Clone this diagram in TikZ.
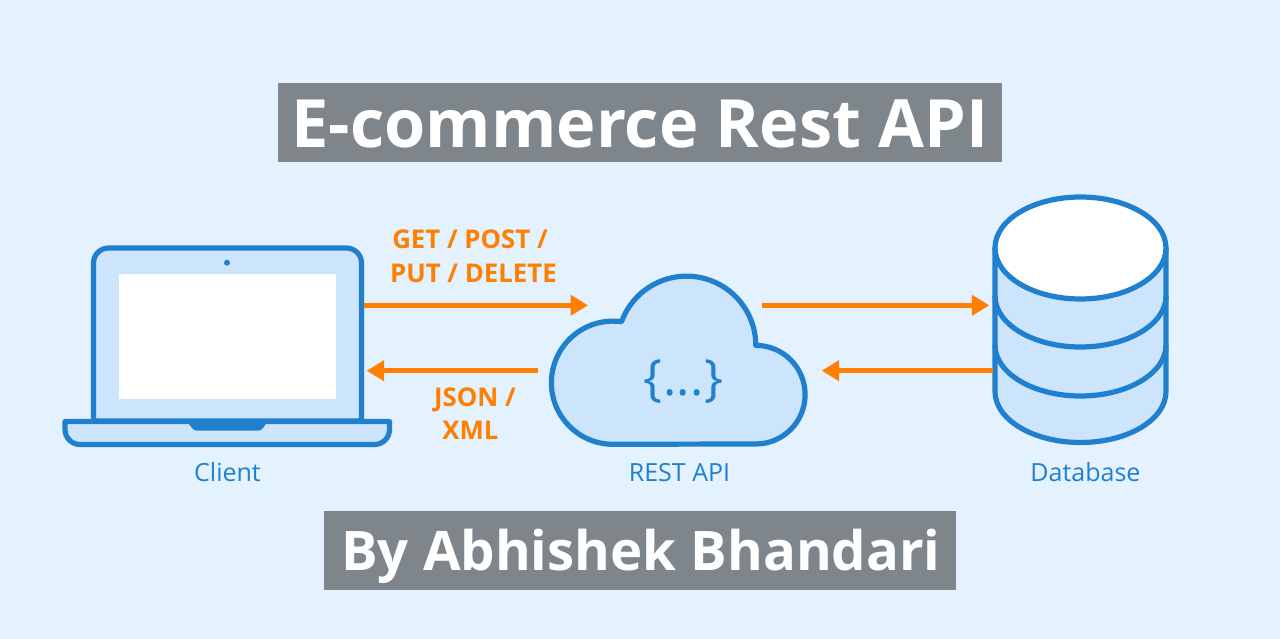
\documentclass[tikz,border=0pt]{standalone}
\usepackage{fontspec}
\setmainfont{Open Sans}
\usetikzlibrary{arrows.meta}
\definecolor{bgc}{HTML}{E4F1FE}
\definecolor{fillc}{HTML}{CCE5FC}
\definecolor{linec}{HTML}{2080CE}
\definecolor{orangec}{HTML}{FF7F00}
\definecolor{boxc}{HTML}{7F868B}
\tikzset{
  icon/.style={draw=linec,line width=5.2pt,fill=fillc,line join=round},
  titletext/.style={text=white,inner sep=0pt,anchor=base,font=\fontsize{66.6}{66.6}\selectfont\bfseries},
  authortext/.style={text=white,inner sep=0pt,anchor=base,font=\fontsize{54.5}{54.5}\selectfont\bfseries},
  boxbg/.style={fill=boxc},
  caption/.style={text=linec,inner sep=0pt,anchor=base,font=\fontsize{25}{25}\selectfont},
  method/.style={text=orangec,inner sep=0pt,anchor=base,font=\fontsize{25.8}{25.8}\selectfont\bfseries},
  flow/.style={draw=orangec,line width=5.5pt,-{Triangle[length=17.5pt,width=20pt]}},
}
\begin{document}
\begin{tikzpicture}[x=1pt,y=1pt,yscale=-1]
\useasboundingbox (0,0) rectangle (1280,639);
\fill[bgc] (0,0) rectangle (1280,639);
% title boxes
\fill[boxbg] (278,83) rectangle (1002,162);
\fill[boxbg] (324,511) rectangle (956,590);
\node[titletext] (title) at (640,148) {E-commerce Rest API};
\node[authortext] (author) at (641,570.5) {By Abhishek Bhandari};
% laptop
\draw[icon] (93.5,421) -- (93.5,263) arc[start angle=180,end angle=270,radius=15pt] -- (346.5,248) arc[start angle=270,end angle=360,radius=15pt] -- (361.5,421) -- cycle;
\fill[white] (119,274) rectangle (335.7,399);
\fill[linec] (227,262.7) circle[radius=3pt];
\draw[icon] (65,421.5) -- (389.5,421.5) -- (389.5,429.5) arc[start angle=0,end angle=90,radius=15pt] -- (80,444.5) arc[start angle=90,end angle=180,radius=15pt] -- cycle;
\fill[linec] (187,421.5) -- (267.6,421.5) -- (263,428) .. controls (262,430) and (260,430.7) .. (258,430.7) -- (197,430.7) .. controls (195,430.7) and (193,430) .. (192,428) -- cycle;
\node[caption] (client) at (227.5,481) {Client};
% cloud
\draw[icon] (613,444.3) arc[start angle=90,end angle=278,radius=61.6pt]
  arc[start angle=200,end angle=360,radius=69.2pt]
  arc[start angle=270,end angle=450,radius=49.3pt] -- cycle;
\node[text=linec,inner sep=0pt,anchor=base,font=\fontsize{50}{50}\selectfont] (braces) at (683.5,395) {\{\hspace{1pt}...\hspace{1pt}\}};
\node[caption] (api) at (679.5,481) {REST API};
% database
\draw[icon] (995,248) -- (995,391.5) arc[start angle=180,end angle=0,x radius=85.5pt,y radius=51pt] -- (1166,248) -- cycle;
\draw[icon,fill=none] (995,296) arc[start angle=180,end angle=0,x radius=85.5pt,y radius=51pt];
\draw[icon,fill=none] (995,345) arc[start angle=180,end angle=0,x radius=85.5pt,y radius=51pt];
\draw[icon,fill=white] (1080.5,248) ellipse[x radius=85.5pt,y radius=51pt];
\node[caption] (db) at (1085.5,481) {Database};
% connector ends
\coordinate (c1) at (364,305.3);
\coordinate (a1) at (588,305.3);
\coordinate (a2) at (537.7,370.7);
\coordinate (c2) at (366.7,370.7);
\coordinate (a3) at (761.7,305.3);
\coordinate (d1) at (989.3,305.3);
\coordinate (d2) at (992.7,370.7);
\coordinate (a4) at (821.7,370.7);
\draw[flow] (c1) -- (a1);
\draw[flow] (a2) -- (c2);
\draw[flow] (a3) -- (d1);
\draw[flow] (d2) -- (a4);
% labels
\node[method] (l1) at (470,248) {GET / POST /};
\node[method] (l2) at (473.5,282) {PUT / DELETE};
\node[method] (l3) at (475,406) {JSON /};
\node[method] (l4) at (470.5,439) {XML};
\end{tikzpicture}
\end{document}
